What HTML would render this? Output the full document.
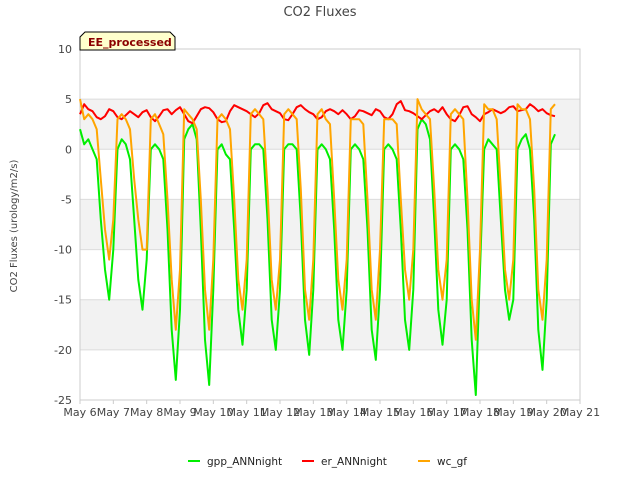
<!DOCTYPE html>
<html><head><meta charset="utf-8"><style>
body{margin:0;background:#fff;font-family:"Liberation Sans","DejaVu Sans",sans-serif;}
svg text{font-family:"DejaVu Sans","Liberation Sans",sans-serif;}
</style></head><body>
<svg id="c" width="640" height="480" viewBox="0 0 640 480">
<rect x="0" y="0" width="640" height="480" fill="#fff"/>
<text x="320" y="16" text-anchor="middle" font-size="13" fill="#444">CO2 Fluxes</text>
<g id="bands"></g><g id="grid"></g><g id="series"></g><g id="axes"></g>
<text transform="translate(17,226) rotate(-90)" text-anchor="middle" font-size="10" fill="#444">CO2 Fluxes (urology/m2/s)</text>
<g>
<path d="M80,50 L80,37 L85,32 L170,32 L175,37 L175,50 Z" fill="#ffffcc" stroke="#000" stroke-width="1"/>
<text x="88" y="46" font-size="11" font-weight="bold" fill="#8b0000">EE_processed</text>
</g>
<g id="legend"></g>
</svg>
<script>
const dayLabels=["May 6","May 7","May 8","May 9","May 10","May 11","May 12","May 13","May 14","May 15","May 16","May 17","May 18","May 19","May 20","May 21"];
const yTicks=[10,5,0,-5,-10,-15,-20,-25];
const seriesNames=["gpp_ANNnight","er_ANNnight","wc_gf"];
const seriesColors=["#00ee00","#ff0000","#ffa500"];
const stepDays=0.125;
const gppVals=[2,0.5,1,0,-1,-7,-12,-15,
-10,0,1,0.5,-1,-7,-13,-16,
-11,0,0.5,0,-1,-8,-18,-23,
-16,1,2,2.5,1,-8,-19,-23.5,
-14,0,0.5,-0.5,-1,-8,-16,-19.5,
-14,0,0.5,0.5,0,-7,-17,-20,
-14,0,0.5,0.5,0,-7,-17,-20.5,
-14,0,0.5,0,-1,-8,-17,-20,
-14,0,0.5,0,-1,-8,-18,-21,
-14,0,0.5,0,-1,-8,-17,-20,
-14,2,3,2.5,1,-7,-16,-19.5,
-15,0,0.5,0,-1,-8,-19,-24.5,
-12,0,1,0.5,0,-7,-14,-17,
-15,0,1,1.5,0,-7,-18,-22,
-15,0.5,1.5];
const wcVals=[5,3,3.5,3,2,-3,-8,-11,
-7,3,3.5,3,2,-3,-7,-10,
-10,3,3.5,2.5,1.5,-5,-13,-18,
-12,4,3.5,3,2,-5,-14,-18,
-11,3,3.5,3,2,-5,-13,-16,
-11,3.5,4,3.5,3,-4,-13,-16,
-11,3.5,4,3.5,3,-4,-14,-17,
-11,3.5,4,3,2.5,-5,-13,-16,
-11,3,3,3,2.5,-5,-14,-17,
-10,3,3,3,2.5,-5,-12,-15,
-10,5,4,3.5,3,-4,-12,-15,
-11,3.5,4,3.5,3,-5,-15,-19,
-10,4.5,4,4,3,-4,-12,-15,
-11,4.5,4,4,3,-4,-14,-17,
-11,4,4.5];
const erVals=[3.5,4.5,4,3.8,3.2,3,3.3,4,
3.8,3.2,3,3.4,3.8,3.5,3.2,3.7,
3.9,3.2,2.8,3.3,3.9,4,3.5,3.9,
4.2,3.5,2.8,2.6,3.3,4,4.2,4.1,
3.7,3,2.7,2.8,3.8,4.4,4.2,4,
3.8,3.5,3.2,3.6,4.4,4.6,4,3.8,
3.6,3,2.9,3.5,4.2,4.4,4,3.7,
3.5,3,3.2,3.8,4,3.8,3.5,3.9,
3.5,3,3.3,3.9,3.8,3.6,3.4,4,
3.8,3.2,3,3.5,4.5,4.8,3.9,3.8,
3.6,3.3,3,3.4,3.8,4,3.7,4.2,
3.5,3,2.8,3.4,4.2,4.3,3.5,3.2,
2.8,3.5,3.7,4,3.8,3.6,3.8,4.2,
4.3,3.8,3.9,4,4.5,4.2,3.8,4,
3.6,3.4,3.3];
const X0=80,X1=580,Y0=400,Y1=49,ns="http://www.w3.org/2000/svg";
const xs=d=>X0+(X1-X0)*d/15;
const ys=v=>Y0+(Y1-Y0)*(v+25)/35;
function mk(t,a,p){const e=document.createElementNS(ns,t);for(const k in a)e.setAttribute(k,a[k]);p.appendChild(e);return e;}
const bands=document.getElementById('bands');
[[5,0],[-5,-10],[-15,-20]].forEach(b=>{const r=mk('rect',{x:X0,y:ys(b[0]),width:X1-X0,height:ys(b[1])-ys(b[0]),fill:'#f2f2f2'},bands);

});
const grid=document.getElementById('grid');
yTicks.forEach(v=>{const l=mk('line',{x1:X0,x2:X1,y1:ys(v),y2:ys(v),stroke:'#dcdcdc','stroke-width':1},grid);

});
mk('rect',{x:X0,y:Y1,width:X1-X0,height:Y0-Y1,fill:'none',stroke:'#ccc'},grid);
const axes=document.getElementById('axes');
yTicks.forEach(v=>{const t=mk('text',{x:X0-8,y:ys(v)+4,'text-anchor':'end','font-size':11,fill:'#444'},axes);t.textContent=v;

});
dayLabels.forEach((s,i)=>{mk('line',{x1:xs(i),x2:xs(i),y1:Y0,y2:Y0+4,stroke:'#ccc'},axes);
const t=mk('text',{x:xs(i),y:Y0+16,'text-anchor':'middle','font-size':11,fill:'#444'},axes);t.textContent=s;

});
const ser=document.getElementById('series');
[gppVals,erVals,wcVals].forEach((vals,si)=>{const d=vals.map((v,i)=>(i?'L':'M')+xs(i*stepDays).toFixed(1)+','+ys(v).toFixed(1)).join('');
const p=mk('path',{d:d,fill:'none',stroke:seriesColors[si],'stroke-width':2,'stroke-linejoin':'round'},ser);

});
const leg=document.getElementById('legend');
const lx=[188,302,418];
seriesNames.forEach((n,i)=>{const g=mk('g',{},leg);


mk('line',{x1:lx[i],x2:lx[i]+12,y1:461,y2:461,stroke:seriesColors[i],'stroke-width':2},g);
const t=mk('text',{x:lx[i]+19,y:465,'font-size':10.5,fill:'#222'},g);t.textContent=n;});
</script>
</body></html>
